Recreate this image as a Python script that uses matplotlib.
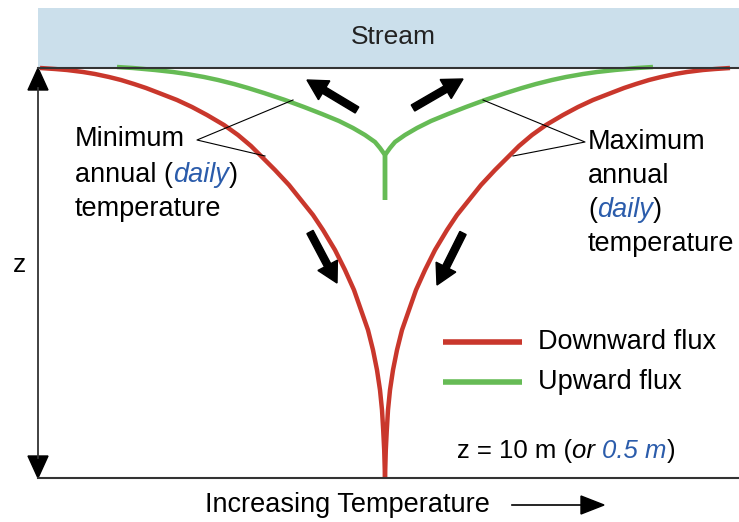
import matplotlib.pyplot as plt
import matplotlib.patches as patches

RED = '#c9372c'
GREEN = '#66bb55'
BLUE = '#2b5cab'
STREAM = '#cbdfeb'
FONT = 'Liberation Sans'

# depth below stream bed (pixels of the sketch) and half-spread of temperature envelope
CENTER = 385
red_depth = [68, 69, 70, 72, 74, 77, 80, 84, 88, 93, 100, 107, 115, 125, 135, 146,
             157, 170, 185, 200, 215, 230, 250, 270, 290, 310, 330, 350, 370, 390,
             410, 430, 450, 478]
red_spread = [345, 330, 318, 302, 290, 276, 264, 251, 239, 226, 208, 193, 178, 161,
              147, 134, 123, 110, 96, 84, 72, 62, 50, 40, 31, 24, 17, 12, 8, 5,
              3, 1.8, 0.8, 0]
green_depth = [67, 68, 70, 72, 74, 77, 80, 84, 88, 93, 100, 107, 114, 121, 128, 135,
               142, 148, 155, 200]
green_spread = [268, 252, 230, 212, 198, 181, 167, 151, 137, 121, 100, 81, 63, 46, 32, 20,
                10, 5, 0, 0]

# flux arrows: (tail x, tail y, tip x, tip y)
flux_arrows = [(357, 110, 307, 80), (413, 108, 463, 79),
               (310, 232, 337, 283), (463, 233, 437, 285)]

legend_labels = ['Downward flux', 'Upward flux']
legend_colors = [RED, GREEN]

fig = plt.figure(figsize=(7.39, 5.22), dpi=100)
ax = fig.add_axes([0, 0, 1, 1])
ax.set_xlim(0, 739)
ax.set_ylim(522, 0)
ax.axis('off')

# stream
ax.add_patch(patches.Rectangle((38, 8), 701, 60, facecolor=STREAM, edgecolor='none'))
ax.text(393, 37, 'Stream', ha='center', va='center', fontsize=19, family=FONT, color='#222222')

# envelopes
for sign in (-1, 1):
    ax.plot([CENTER + sign * s for s in red_spread], red_depth, color=RED, lw=3.2,
            solid_capstyle='butt', solid_joinstyle='round', zorder=3)
    ax.plot([CENTER + sign * s for s in green_spread], green_depth, color=GREEN, lw=3.2,
            solid_capstyle='butt', solid_joinstyle='round', zorder=3)

# axes lines
ax.plot([38, 739], [68, 68], color='#333333', lw=1.5, zorder=4)
ax.plot([38, 739], [478, 478], color='#333333', lw=1.5, zorder=4)
ax.plot([38, 38], [88, 458], color='#333333', lw=1.3)
ax.add_patch(patches.Polygon([[38, 68], [28, 90], [48, 90]], closed=True, color='black'))
ax.add_patch(patches.Polygon([[38, 478], [28, 456], [48, 456]], closed=True, color='black'))
ax.text(20, 265, 'z', ha='center', va='center', fontsize=19, family=FONT)

# flux arrows
for x0, y0, x1, y1 in flux_arrows:
    ax.arrow(x0, y0, x1 - x0, y1 - y0, width=7, head_width=22, head_length=20,
             length_includes_head=True, color='black', zorder=5)

# leader lines
ax.plot([293, 197, 265], [100, 140, 156], color='black', lw=0.8, zorder=4)
ax.plot([483, 585, 513], [100, 142, 156], color='black', lw=0.8, zorder=4)


def rich_line(x, y, pieces, size=19.5):
    prev = None
    for txt, color, style in pieces:
        if prev is None:
            prev = ax.text(x, y, txt, ha='left', va='center', fontsize=size,
                           family=FONT, color=color, style=style)
        else:
            prev = ax.annotate(txt, xy=(1, 0), xycoords=prev, ha='left', va='bottom',
                               fontsize=size, family=FONT, color=color, style=style)
    return prev


K = 'black'
rich_line(75, 139, [('Minimum', K, 'normal')])
rich_line(75, 175, [('annual (', K, 'normal'), ('daily', BLUE, 'italic'), (')', K, 'normal')])
rich_line(75, 209, [('temperature', K, 'normal')])

rich_line(588, 142, [('Maximum', K, 'normal')])
rich_line(588, 176, [('annual', K, 'normal')])
rich_line(588, 210, [('(', K, 'normal'), ('daily', BLUE, 'italic'), (')', K, 'normal')])
rich_line(588, 244, [('temperature', K, 'normal')])

# legend
for i, (lab, col) in enumerate(zip(legend_labels, legend_colors)):
    yy = 342 + 40 * i
    ax.plot([443, 522], [yy, yy], color=col, lw=4, solid_capstyle='butt')
    ax.text(538, yy, lab, ha='left', va='center', fontsize=19.5, family=FONT)

rich_line(457, 451, [('z = 10 m (', K, 'normal'), ('or ', K, 'italic'),
                     ('0.5 m', BLUE, 'italic'), (')', K, 'normal')], size=18.5)

ax.text(205, 505, 'Increasing Temperature', ha='left', va='center', fontsize=19.5, family=FONT)
ax.plot([512, 584], [505, 505], color='black', lw=1.2)
ax.add_patch(patches.Polygon([[604, 505], [581, 496], [581, 514]], closed=True, color='black'))

fig.savefig('out.png', dpi=100)
